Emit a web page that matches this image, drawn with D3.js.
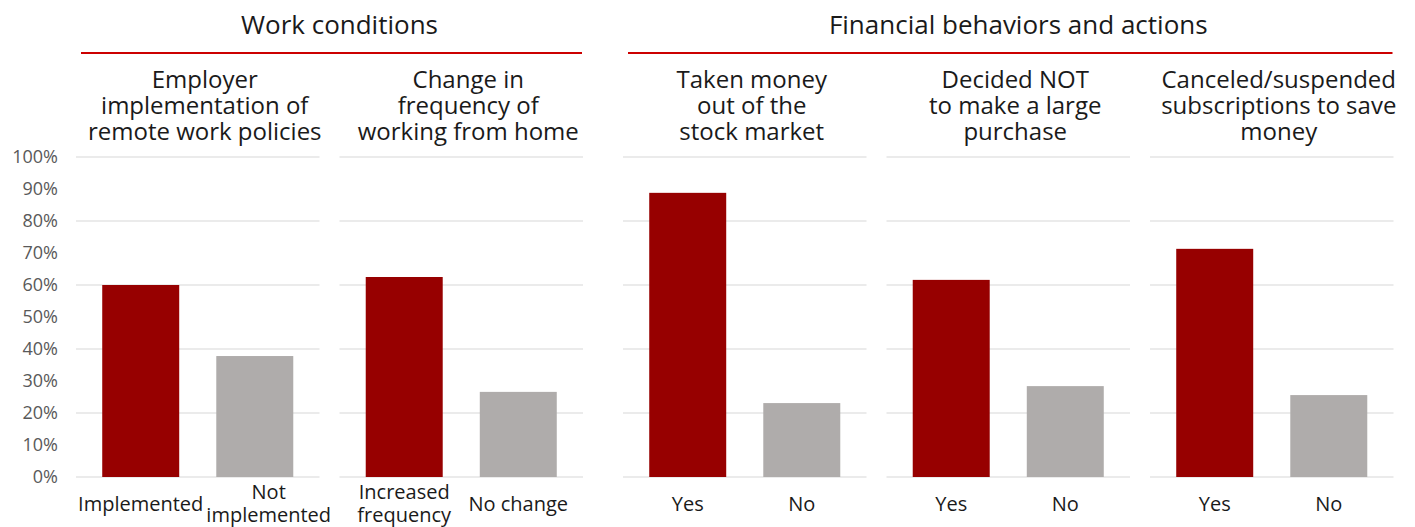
<!DOCTYPE html>
<html>
<head>
<meta charset="utf-8">
<script src="https://cdn.jsdelivr.net/npm/d3@7"></script>
<style>
  body { margin: 0; background: #fff; }
  svg { display: block; font-family: "Open Sans", sans-serif; }
</style>
</head>
<body>
<svg id="chart"></svg>
<script>
// --- data ---
const groupTitles = ["Work conditions", "Financial behaviors and actions"];
const panelGroup = [0, 0, 1, 1, 1];
const panelTitles = [
  ["Employer", "implementation of", "remote work policies"],
  ["Change in", "frequency of", "working from home"],
  ["Taken money", "out of the", "stock market"],
  ["Decided NOT", "to make a large", "purchase"],
  ["Canceled/suspended", "subscriptions to save", "money"]
];
const categories = [
  [["Implemented"], ["Not", "implemented"]],
  [["Increased", "frequency"], ["No change"]],
  [["Yes"], ["No"]],
  [["Yes"], ["No"]],
  [["Yes"], ["No"]]
];
const firstValues = [60.0, 62.5, 88.8, 61.6, 71.3];
const secondValues = [37.8, 26.6, 23.1, 28.4, 25.6];
const yTicks = d3.range(0, 101, 10);
const gridTicks = d3.range(0, 101, 20);

const width = 1415;
const height = 527;
const barColors = ["#970000", "#afacab"];

const svg = d3.select("#chart")
  .attr("width", width)
  .attr("height", height);

// panel layout
const left = 76;
const panelW = 243.5;
const gap = 20;
const groupGap = 40;
const panelX = [];
let cx = left;
panelGroup.forEach((grp, i) => {
  if (i > 0) cx += (grp !== panelGroup[i - 1]) ? groupGap : gap;
  panelX.push(cx);
  cx += panelW;
});

const y = d3.scaleLinear().domain([0, 100]).range([477, 157]);
const x = d3.scaleBand().domain([0, 1]).range([0, panelW])
  .paddingInner(0.325).paddingOuter(0.23);

// y axis
const yAxis = svg.append("g")
  .attr("transform", `translate(${left},0)`)
  .call(d3.axisLeft(y).tickValues(yTicks).tickFormat(d => d + "%").tickSize(0).tickPadding(18));
yAxis.select(".domain").remove();
yAxis.selectAll("text")
  .attr("fill", "#595959")
  .style("font-size", "18px")
  .style("font-family", "'Open Sans', sans-serif");

// group titles with red rule
groupTitles.forEach((t, gi) => {
  const idx = panelGroup.map((g, i) => g === gi ? i : -1).filter(i => i >= 0);
  const x0 = panelX[idx[0]];
  const x1 = panelX[idx[idx.length - 1]] + panelW;
  svg.append("line")
    .attr("x1", x0 + 5).attr("x2", x1 - 1)
    .attr("y1", 53).attr("y2", 53)
    .attr("stroke", "#cc0000")
    .attr("stroke-width", 2);
  svg.append("text")
    .attr("x", (x0 + x1) / 2 + 10)
    .attr("y", 34)
    .attr("text-anchor", "middle")
    .style("font-size", "26px")
    .attr("fill", "#1a1a1a")
    .text(t);
});

// panels
panelX.forEach((px, i) => {
  const g = svg.append("g").attr("transform", `translate(${px},0)`);

  g.selectAll("line.grid")
    .data(gridTicks)
    .join("line")
    .attr("class", "grid")
    .attr("x1", 0).attr("x2", panelW)
    .attr("y1", d => y(d)).attr("y2", d => y(d))
    .attr("stroke", "#e4e4e4")
    .attr("stroke-width", 1.5);

  const title = g.append("text")
    .attr("text-anchor", "middle")
    .style("font-size", "24px")
    .attr("fill", "#1a1a1a");
  title.selectAll("tspan")
    .data(panelTitles[i])
    .join("tspan")
    .attr("x", panelW / 2 + 7)
    .attr("y", (d, k) => 87.5 + k * 26)
    .text(d => d);

  const vals = [firstValues[i], secondValues[i]];
  g.selectAll("rect")
    .data(vals)
    .join("rect")
    .attr("x", (d, k) => x(k))
    .attr("width", x.bandwidth())
    .attr("y", d => y(d))
    .attr("height", d => y(0) - y(d))
    .attr("fill", (d, k) => barColors[k]);

  const labels = g.selectAll("text.xlab")
    .data(categories[i])
    .join("text")
    .attr("class", "xlab")
    .attr("text-anchor", "middle")
    .style("font-size", "20px")
    .attr("fill", "#1a1a1a");
  labels.each(function (lines, k) {
    d3.select(this).selectAll("tspan")
      .data(lines)
      .join("tspan")
      .attr("x", x(k) + x.bandwidth() / 2)
      .attr("y", (d, j) => lines.length === 1 ? 511 : 499 + j * 23)
      .text(d => d);
  });

  // nudge second label right if it collides with the first
  const nodes = labels.nodes();
  const b0 = nodes[0].getBBox();
  const b1 = nodes[1].getBBox();
  const overlap = b0.x + b0.width + 3 - b1.x;
  if (overlap > 0) d3.select(nodes[1]).attr("transform", `translate(${overlap},0)`);
});
</script>
</body>
</html>
